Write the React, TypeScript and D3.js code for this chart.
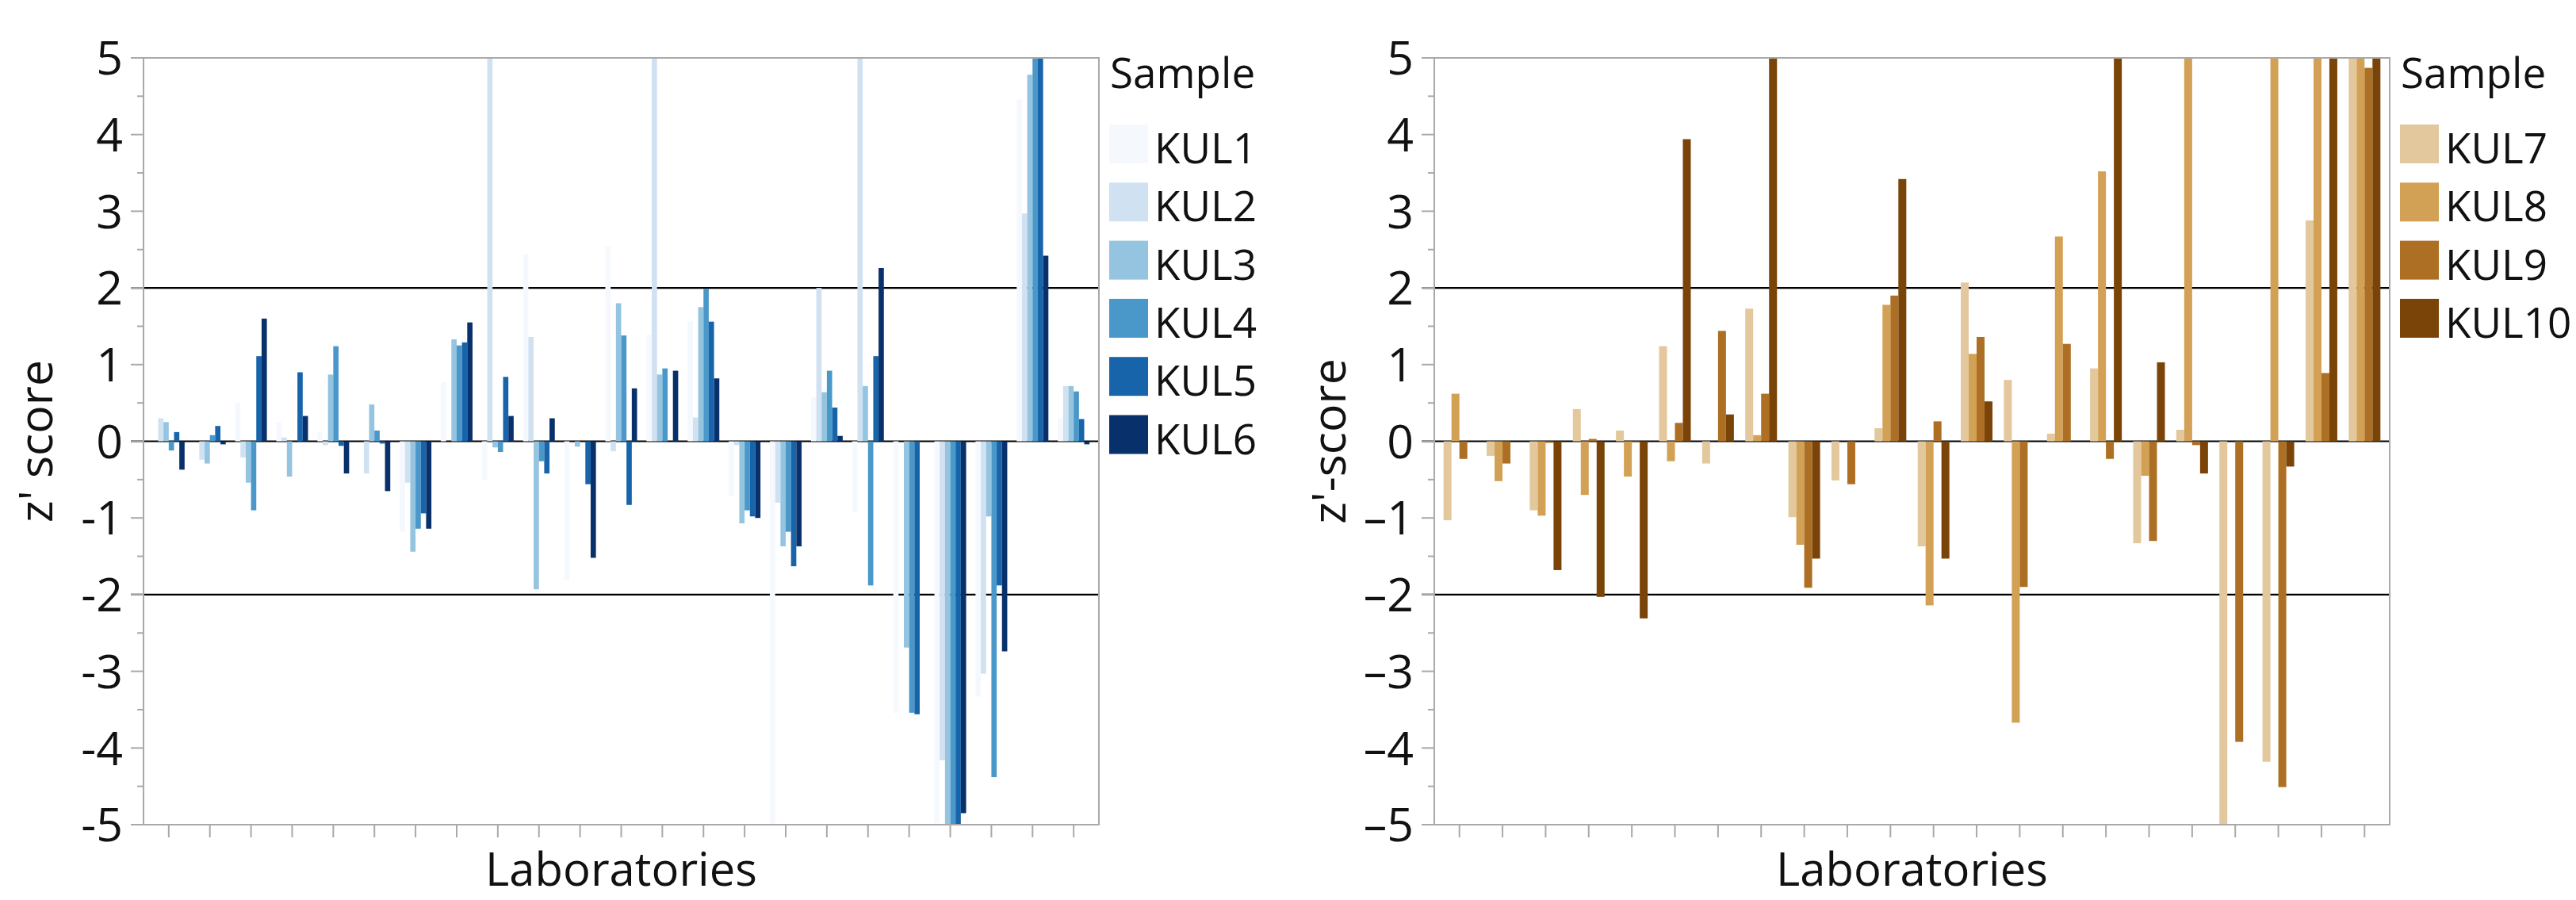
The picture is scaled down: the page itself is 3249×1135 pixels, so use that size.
import React from "react";
import * as d3 from "d3";

// ---------- data ----------
const LEFT_LABS = ["L1","L2","L3","L4","L5","L6","L7","L8","L9","L10","L11","L12","L13","L14","L15","L16","L17","L18","L19","L20","L21","L22","L23"];
const RIGHT_LABS = ["L1","L2","L3","L4","L5","L6","L7","L8","L9","L10","L11","L12","L13","L14","L15","L16","L17","L18","L19","L20","L21","L22"];

const BLUE_SAMPLES = ["KUL1", "KUL2", "KUL3", "KUL4", "KUL5", "KUL6"];
const BLUE_COLORS = ["#f5f9fe", "#d0e1f2", "#94c4df", "#4a98c9", "#1764ab", "#08306b"];
const KUL1 = [0, 0, 0.5, 0.25, 0.13, 0, -1.18, 0.77, -0.5, 2.44, -1.81, 2.54, 1.39, 1.57, -0.72, -5, 0.58, -0.93, -3.54, -4.98, -3.33, 4.46, 0.3];
const KUL2 = [0.3, -0.24, -0.21, 0.05, -0.05, -0.42, -0.54, 0, 5, 1.36, 0, -0.13, 5, 0.31, -0.05, -0.8, 2.0, 5, 0, -4.16, -3.03, 2.97, 0.72];
const KUL3 = [0.25, -0.29, -0.54, -0.46, 0.87, 0.48, -1.44, 1.33, -0.08, -1.93, -0.07, 1.8, 0.87, 1.75, -1.07, -1.37, 0.64, 0.72, -2.69, -5, -0.98, 4.78, 0.72];
const KUL4 = [-0.12, 0.08, -0.9, 0, 1.24, 0.14, -1.14, 1.25, -0.14, -0.26, 0, 1.38, 0.95, 1.99, -0.9, -1.18, 0.92, -1.88, -3.54, -5, -4.38, 5, 0.65];
const KUL5 = [0.12, 0.2, 1.11, 0.9, -0.06, -0.03, -0.94, 1.29, 0.84, -0.42, -0.56, -0.83, 0, 1.56, -0.98, -1.63, 0.44, 1.11, -3.56, -5, -1.88, 5, 0.29];
const KUL6 = [-0.37, -0.04, 1.6, 0.33, -0.42, -0.65, -1.14, 1.55, 0.33, 0.3, -1.52, 0.69, 0.92, 0.82, -1.0, -1.37, 0.07, 2.26, 0, -4.85, -2.74, 2.42, -0.04];

const BROWN_SAMPLES = ["KUL7", "KUL8", "KUL9", "KUL10"];
const BROWN_COLORS = ["#e3c89d", "#d2a155", "#ad6f24", "#7a4408"];
const KUL7 = [-1.03, -0.19, -0.9, 0.42, 0.14, 1.24, -0.29, 1.73, -0.99, -0.51, 0.17, -1.37, 2.07, 0.8, 0.1, 0.95, -1.33, 0.15, -5, -4.18, 2.88, 5];
const KUL8 = [0.62, -0.52, -0.97, -0.7, -0.46, -0.26, 0, 0.08, -1.35, 0, 1.78, -2.14, 1.14, -3.67, 2.67, 3.52, -0.45, 5, 0, 5, 5, 5];
const KUL9 = [-0.23, -0.29, -0.02, 0.03, -0.01, 0.24, 1.44, 0.62, -1.91, -0.56, 1.9, 0.26, 1.36, -1.9, 1.27, -0.23, -1.3, -0.05, -3.92, -4.51, 0.89, 4.87];
const KUL10 = [0, 0, -1.68, -2.03, -2.31, 3.94, 0.35, 5, -1.53, 0, 3.42, -1.53, 0.52, 0, 0, 5, 1.03, -0.42, 0, -0.33, 5, 5];

const REF_LINES = [2, 0, -2];

// ---------- layout ----------
const W = 3249, H = 1135;
const TOP = 73, BOTTOM = 1040;
const FONT = "'Open Sans', 'Noto Sans', sans-serif";
const FRAME = "#a9a9a9";

function Panel(props: any) {
  const { id, x0, x1, labs, samples, colors, series, yTitle, yTitleX, minus, legendX, pi, po } = props;
  const x = d3.scaleBand<string>().domain(labs).range([x0, x1]).paddingInner(pi).paddingOuter(po);
  const xs = d3.scaleBand<string>().domain(samples).range([0, x.bandwidth()]);
  const y = d3.scaleLinear().domain([-5, 5]).range([BOTTOM, TOP]);
  const majors = y.ticks(10);
  const minors = y.ticks(20).filter((t) => !Number.isInteger(t));
  const cx = (x0 + x1) / 2;
  const cy = (TOP + BOTTOM) / 2;
  return (
    <g>
      <defs>
        <clipPath id={id}>
          <rect x={x0} y={TOP} width={x1 - x0} height={BOTTOM - TOP} />
        </clipPath>
      </defs>
      {REF_LINES.map((r) => (
        <line key={"r" + r} x1={x0 - 16} x2={x1} y1={y(r)} y2={y(r)} stroke="#000" strokeWidth={2.2} />
      ))}
      <g clipPath={`url(#${id})`}>
        {samples.map((s: string, si: number) =>
          labs.map((lab: string, li: number) => {
            const v = series[si][li];
            if (v === 0) return null;
            const ya = y(Math.max(v, 0));
            const yb = y(Math.min(v, 0));
            return (
              <rect key={s + lab} x={(x(lab) as number) + (xs(s) as number)} y={ya}
                width={xs.bandwidth()} height={yb - ya} fill={colors[si]} />
            );
          })
        )}
      </g>
      <rect x={x0} y={TOP} width={x1 - x0} height={BOTTOM - TOP} fill="none" stroke={FRAME} strokeWidth={2} />
      {majors.map((t) => (
        <g key={"m" + t}>
          <line x1={x0 - 16} x2={x0} y1={y(t)} y2={y(t)} stroke={FRAME} strokeWidth={2} />
          <text x={x0 - 26} y={y(t)} dy="0.36em" textAnchor="end" fontSize={59} fontFamily={FONT} fill="#111">
            {t < 0 ? minus + Math.abs(t) : String(t)}
          </text>
        </g>
      ))}
      {minors.map((t) => (
        <line key={"n" + t} x1={x0 - 8} x2={x0} y1={y(t)} y2={y(t)} stroke={FRAME} strokeWidth={2} />
      ))}
      {labs.map((lab: string) => {
        const c = (x(lab) as number) + x.bandwidth() / 2;
        return <line key={"x" + lab} x1={c} x2={c} y1={BOTTOM} y2={BOTTOM + 16} stroke={FRAME} strokeWidth={2} />;
      })}
      <text x={cx} y={1117} textAnchor="middle" fontSize={58} fontFamily={FONT} fill="#111">Laboratories</text>
      <text transform={`translate(${yTitleX},${cy}) rotate(-90)`} textAnchor="middle" fontSize={59} fontFamily={FONT} fill="#111">
        {yTitle}
      </text>
      <text x={legendX} y={111} fontSize={53} fontFamily={FONT} fill="#111">Sample</text>
      {samples.map((s: string, i: number) => {
        const top = 157 + i * 73.3;
        return (
          <g key={"lg" + s}>
            <rect x={legendX - 1} y={top} width={49} height={49} fill={colors[i]} />
            <text x={legendX + 56} y={top + 49} fontSize={53} fontFamily={FONT} fill="#111">{s}</text>
          </g>
        );
      })}
    </g>
  );
}

export default function App() {
  return (
    <svg width={W} height={H} style={{ position: "absolute", left: 0, top: 0, background: "#fff" }}>
      <rect x={0} y={0} width={W} height={H} fill="#fff" />
      <Panel id="clipL" x0={181} x1={1386} labs={LEFT_LABS} samples={BLUE_SAMPLES} colors={BLUE_COLORS}
        series={[KUL1, KUL2, KUL3, KUL4, KUL5, KUL6]} yTitle="z' score" yTitleX={66} minus="-"
        legendX={1400} pi={0.229} po={0.228} />
      <Panel id="clipR" x0={1809} x1={3014} labs={RIGHT_LABS} samples={BROWN_SAMPLES} colors={BROWN_COLORS}
        series={[KUL7, KUL8, KUL9, KUL10]} yTitle="z'-score" yTitleX={1697} minus="–"
        legendX={3028} pi={0.264} po={0.215} />
    </svg>
  );
}
